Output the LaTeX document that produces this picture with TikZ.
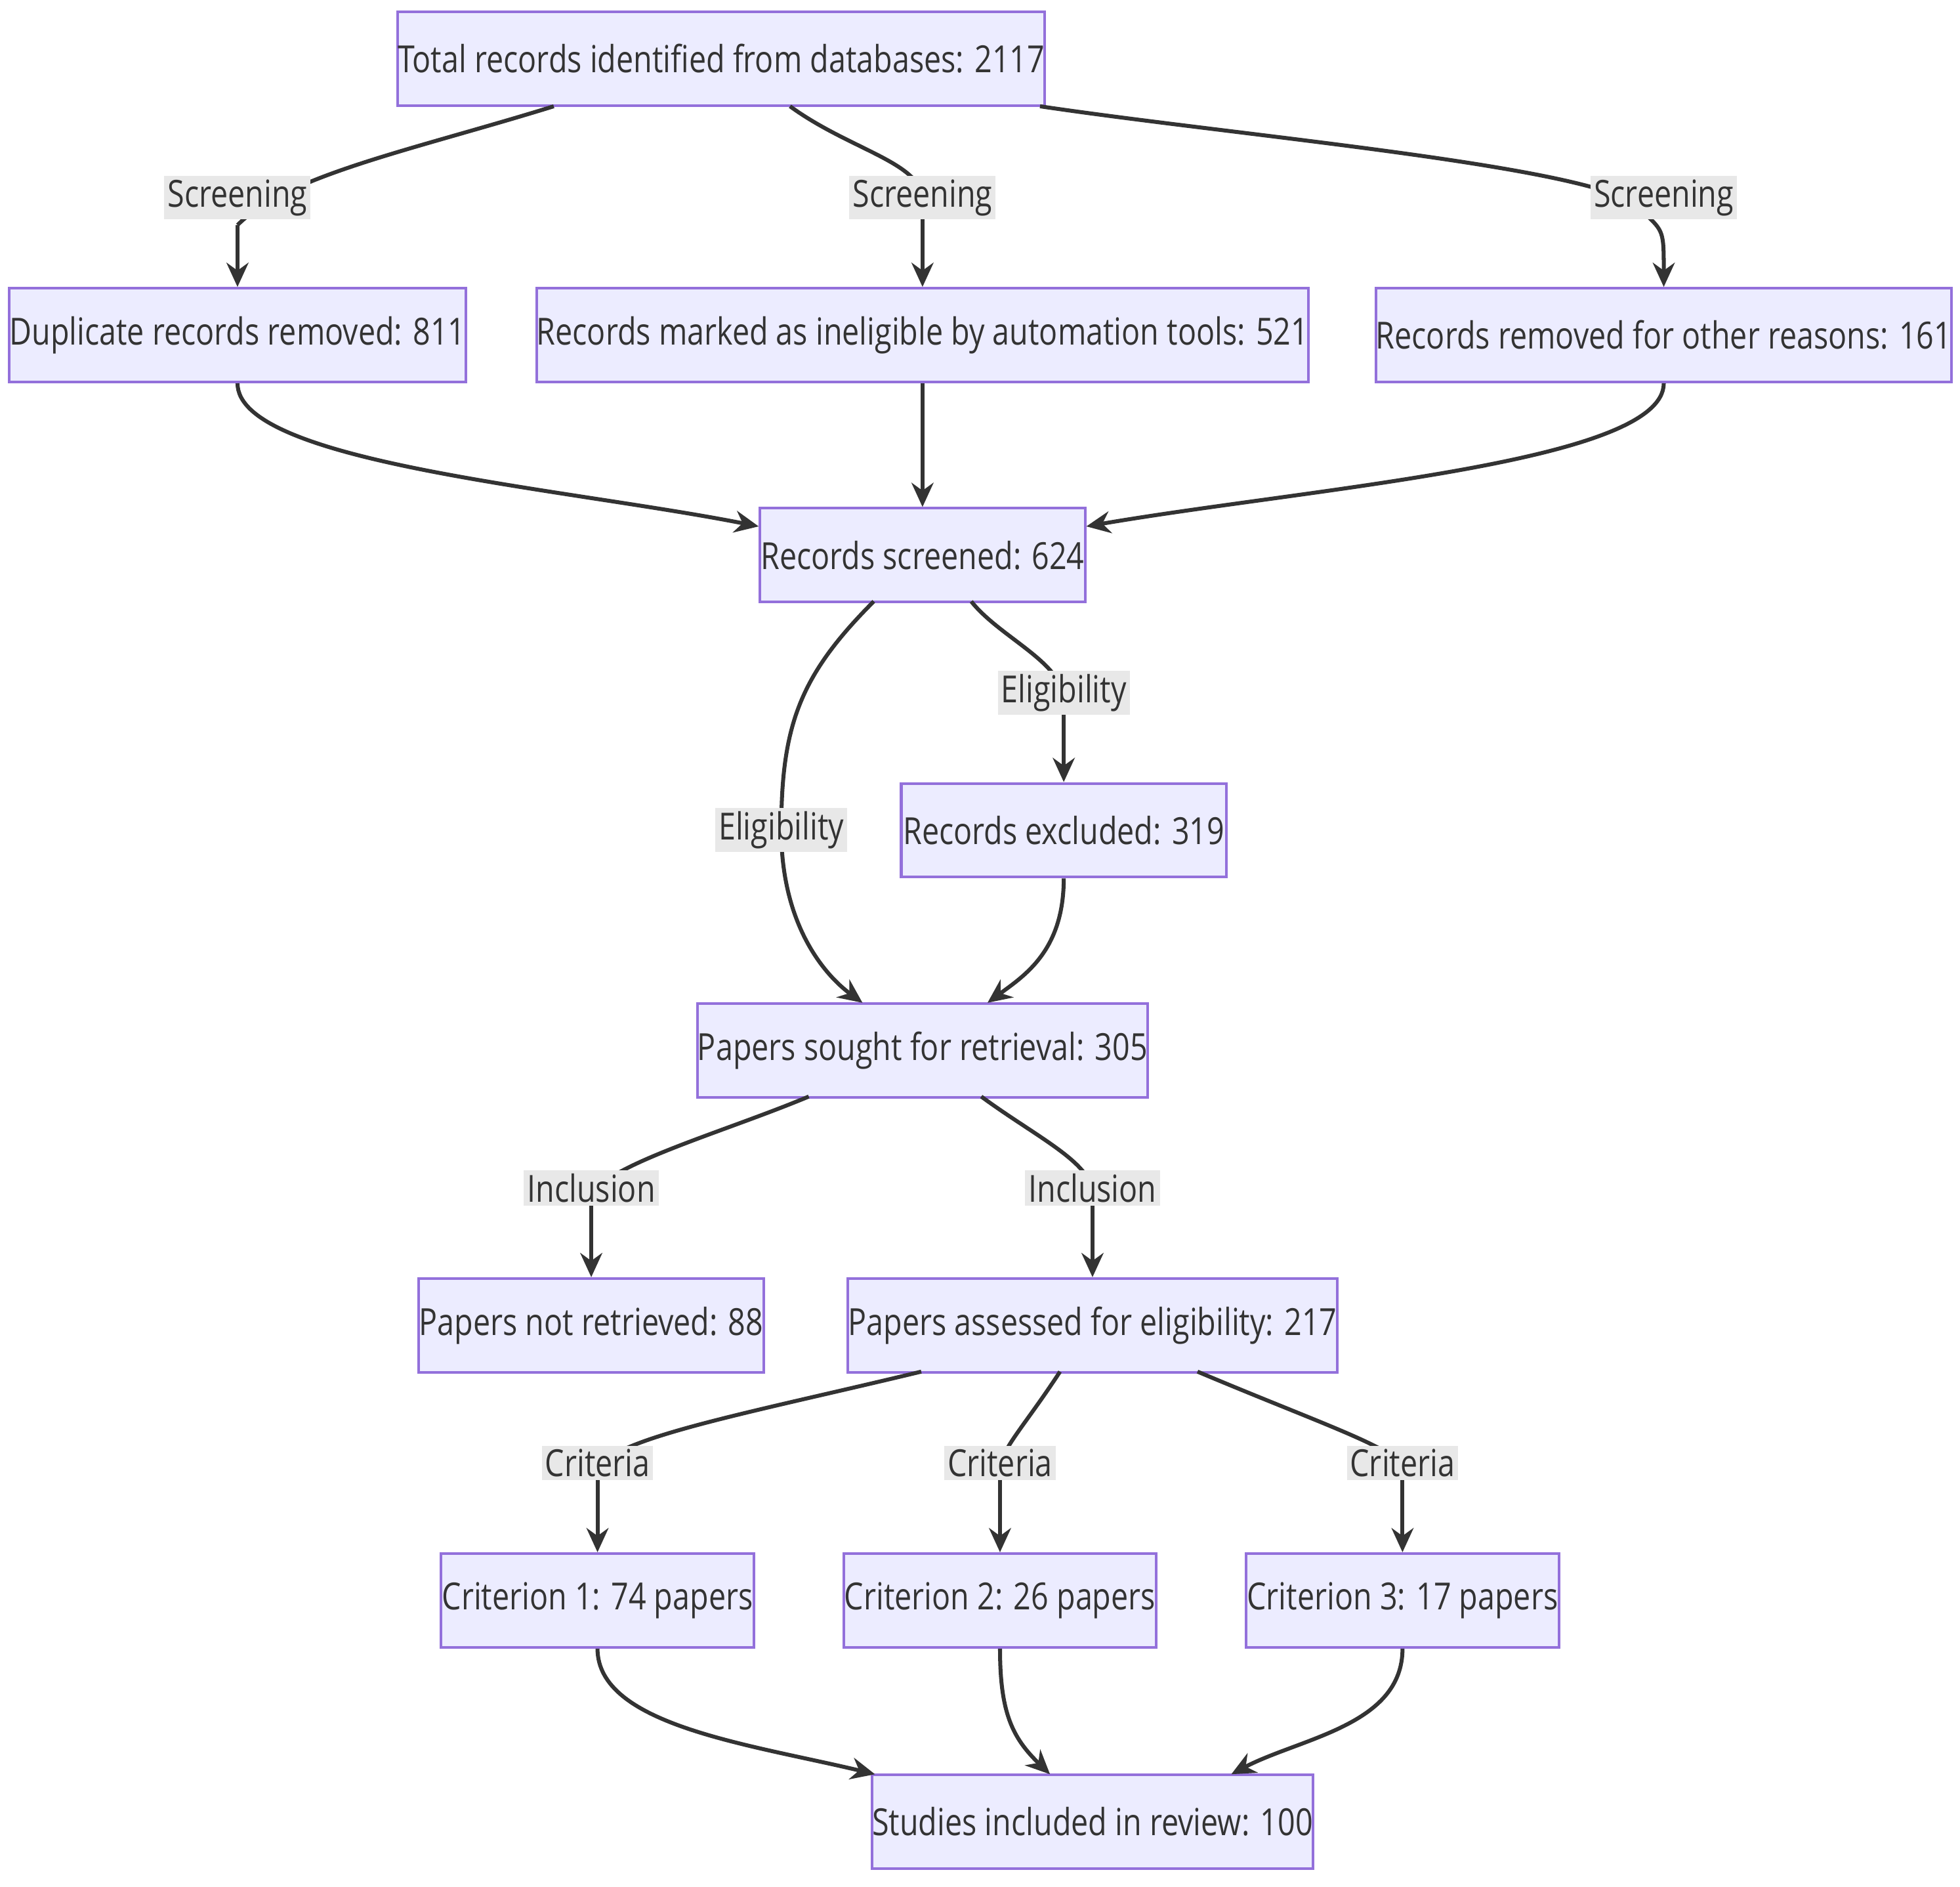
\documentclass[tikz,border=0pt]{standalone}
\usepackage{fontspec}
\setmainfont{Open Sans}[FakeStretch=0.82]
\usetikzlibrary{arrows.meta}
\definecolor{boxfill}{HTML}{ECECFF}
\definecolor{boxline}{HTML}{9370DB}
\definecolor{lblfill}{HTML}{E8E8E8}
\definecolor{edge}{HTML}{333333}
\begin{document}
\begin{tikzpicture}[x=0.02cm,y=-0.02cm,
  box/.style={draw=boxline,fill=boxfill,line width=1.2pt,minimum height=1.5cm,inner sep=0pt,text=black!80,font=\fontsize{17}{20}\selectfont},
  lbl/.style={fill=lblfill,inner sep=1.5pt,text=black!80,font=\fontsize{17}{20}\selectfont},
  e/.style={draw=edge,line width=1.8pt,-{Stealth[length=11pt,width=10pt]}},
  l/.style={draw=edge,line width=1.8pt}]
\useasboundingbox (0,0) rectangle (1568,1509);
\node[box,minimum width=509*0.02cm] (tot) at (577,47) {Total records identified from databases: 2117};
\node[box,minimum width=360*0.02cm] (dup) at (190,268) {Duplicate records removed: 811};
\node[box,minimum width=594*0.02cm] (ine) at (738,268) {Records marked as ineligible by automation tools: 521};
\node[box,minimum width=450*0.02cm] (oth) at (1331,268) {Records removed for other reasons: 161};
\node[box,minimum width=260*0.02cm] (scr) at (738,444) {Records screened: 624};
\node[box,minimum width=260*0.02cm] (exc) at (851,664) {Records excluded: 319};
\node[box,minimum width=354*0.02cm] (sou) at (738,840) {Papers sought for retrieval: 305};
\node[box,minimum width=276*0.02cm] (nre) at (473,1060) {Papers not retrieved: 88};
\node[box,minimum width=382*0.02cm] (ass) at (874,1060) {Papers assessed for eligibility: 217};
\node[box,minimum width=250*0.02cm] (c1) at (478,1280) {Criterion 1: 74 papers};
\node[box,minimum width=250*0.02cm] (c2) at (800,1280) {Criterion 2: 26 papers};
\node[box,minimum width=250*0.02cm] (c3) at (1122,1280) {Criterion 3: 17 papers};
\node[box,minimum width=348*0.02cm] (stu) at (874,1457) {Studies included in review: 100};
% edges with labels
\coordinate (a1) at (443,85); \coordinate (a2) at (632,85); \coordinate (a3) at (832,85);
\draw[l] (a1) .. controls (330,120) and (230,140) .. (190,180);
\draw[e] (190,180) -- (dup.north);
\node[lbl] (s1) at (190,158) {Screening};
\draw[l] (a2) .. controls (680,120) and (738,130) .. (738,160);
\draw[e] (738,160) -- (ine.north);
\node[lbl] (s2) at (738,158) {Screening};
\draw[l] (a3) .. controls (1000,110) and (1300,135) .. (1315,170);
\draw[e] (1315,170) .. controls (1331,185) .. (oth.north);
\node[lbl] (s3) at (1331,158) {Screening};
\draw[e] (dup.south) .. controls (190,370) and (450,390) .. (scr.west|-0,421);
\draw[e] (ine.south) -- (scr.north);
\draw[e] (oth.south) .. controls (1331,370) and (1050,390) .. (scr.east|-0,421);
\draw[l] (777,481) .. controls (800,510) and (851,530) .. (851,560);
\draw[e] (851,560) -- (exc.north);
\node[lbl] (el1) at (851,554) {Eligibility};
\draw[e] (699,481) .. controls (640,540) and (625,580) .. (625,664) .. controls (625,740) and (660,780) .. (690,802);
\node[lbl] (el2) at (625,664) {Eligibility};
\draw[e] (exc.south) .. controls (851,760) and (820,780) .. (790,802);
\draw[l] (647,877) .. controls (580,905) and (490,930) .. (473,955);
\draw[e] (473,955) -- (nre.north);
\node[lbl] (i1) at (473,950) {Inclusion};
\draw[l] (785,877) .. controls (830,910) and (874,930) .. (874,955);
\draw[e] (874,955) -- (ass.north);
\node[lbl] (i2) at (874,950) {Inclusion};
\draw[l] (737,1097) .. controls (600,1130) and (490,1150) .. (478,1175);
\draw[e] (478,1175) -- (c1.north);
\node[lbl] (k1) at (478,1170) {Criteria};
\draw[l] (848,1097) .. controls (820,1140) and (800,1160) .. (800,1175);
\draw[e] (800,1175) -- (c2.north);
\node[lbl] (k2) at (800,1170) {Criteria};
\draw[l] (958,1097) .. controls (1060,1140) and (1122,1160) .. (1122,1175);
\draw[e] (1122,1175) -- (c3.north);
\node[lbl] (k3) at (1122,1170) {Criteria};
\draw[e] (c1.south) .. controls (478,1380) and (600,1395) .. (700,1419);
\draw[e] (c2.south) .. controls (800,1370) and (810,1390) .. (840,1419);
\draw[e] (c3.south) .. controls (1122,1380) and (1040,1390) .. (985,1419);
\end{tikzpicture}
\end{document}
